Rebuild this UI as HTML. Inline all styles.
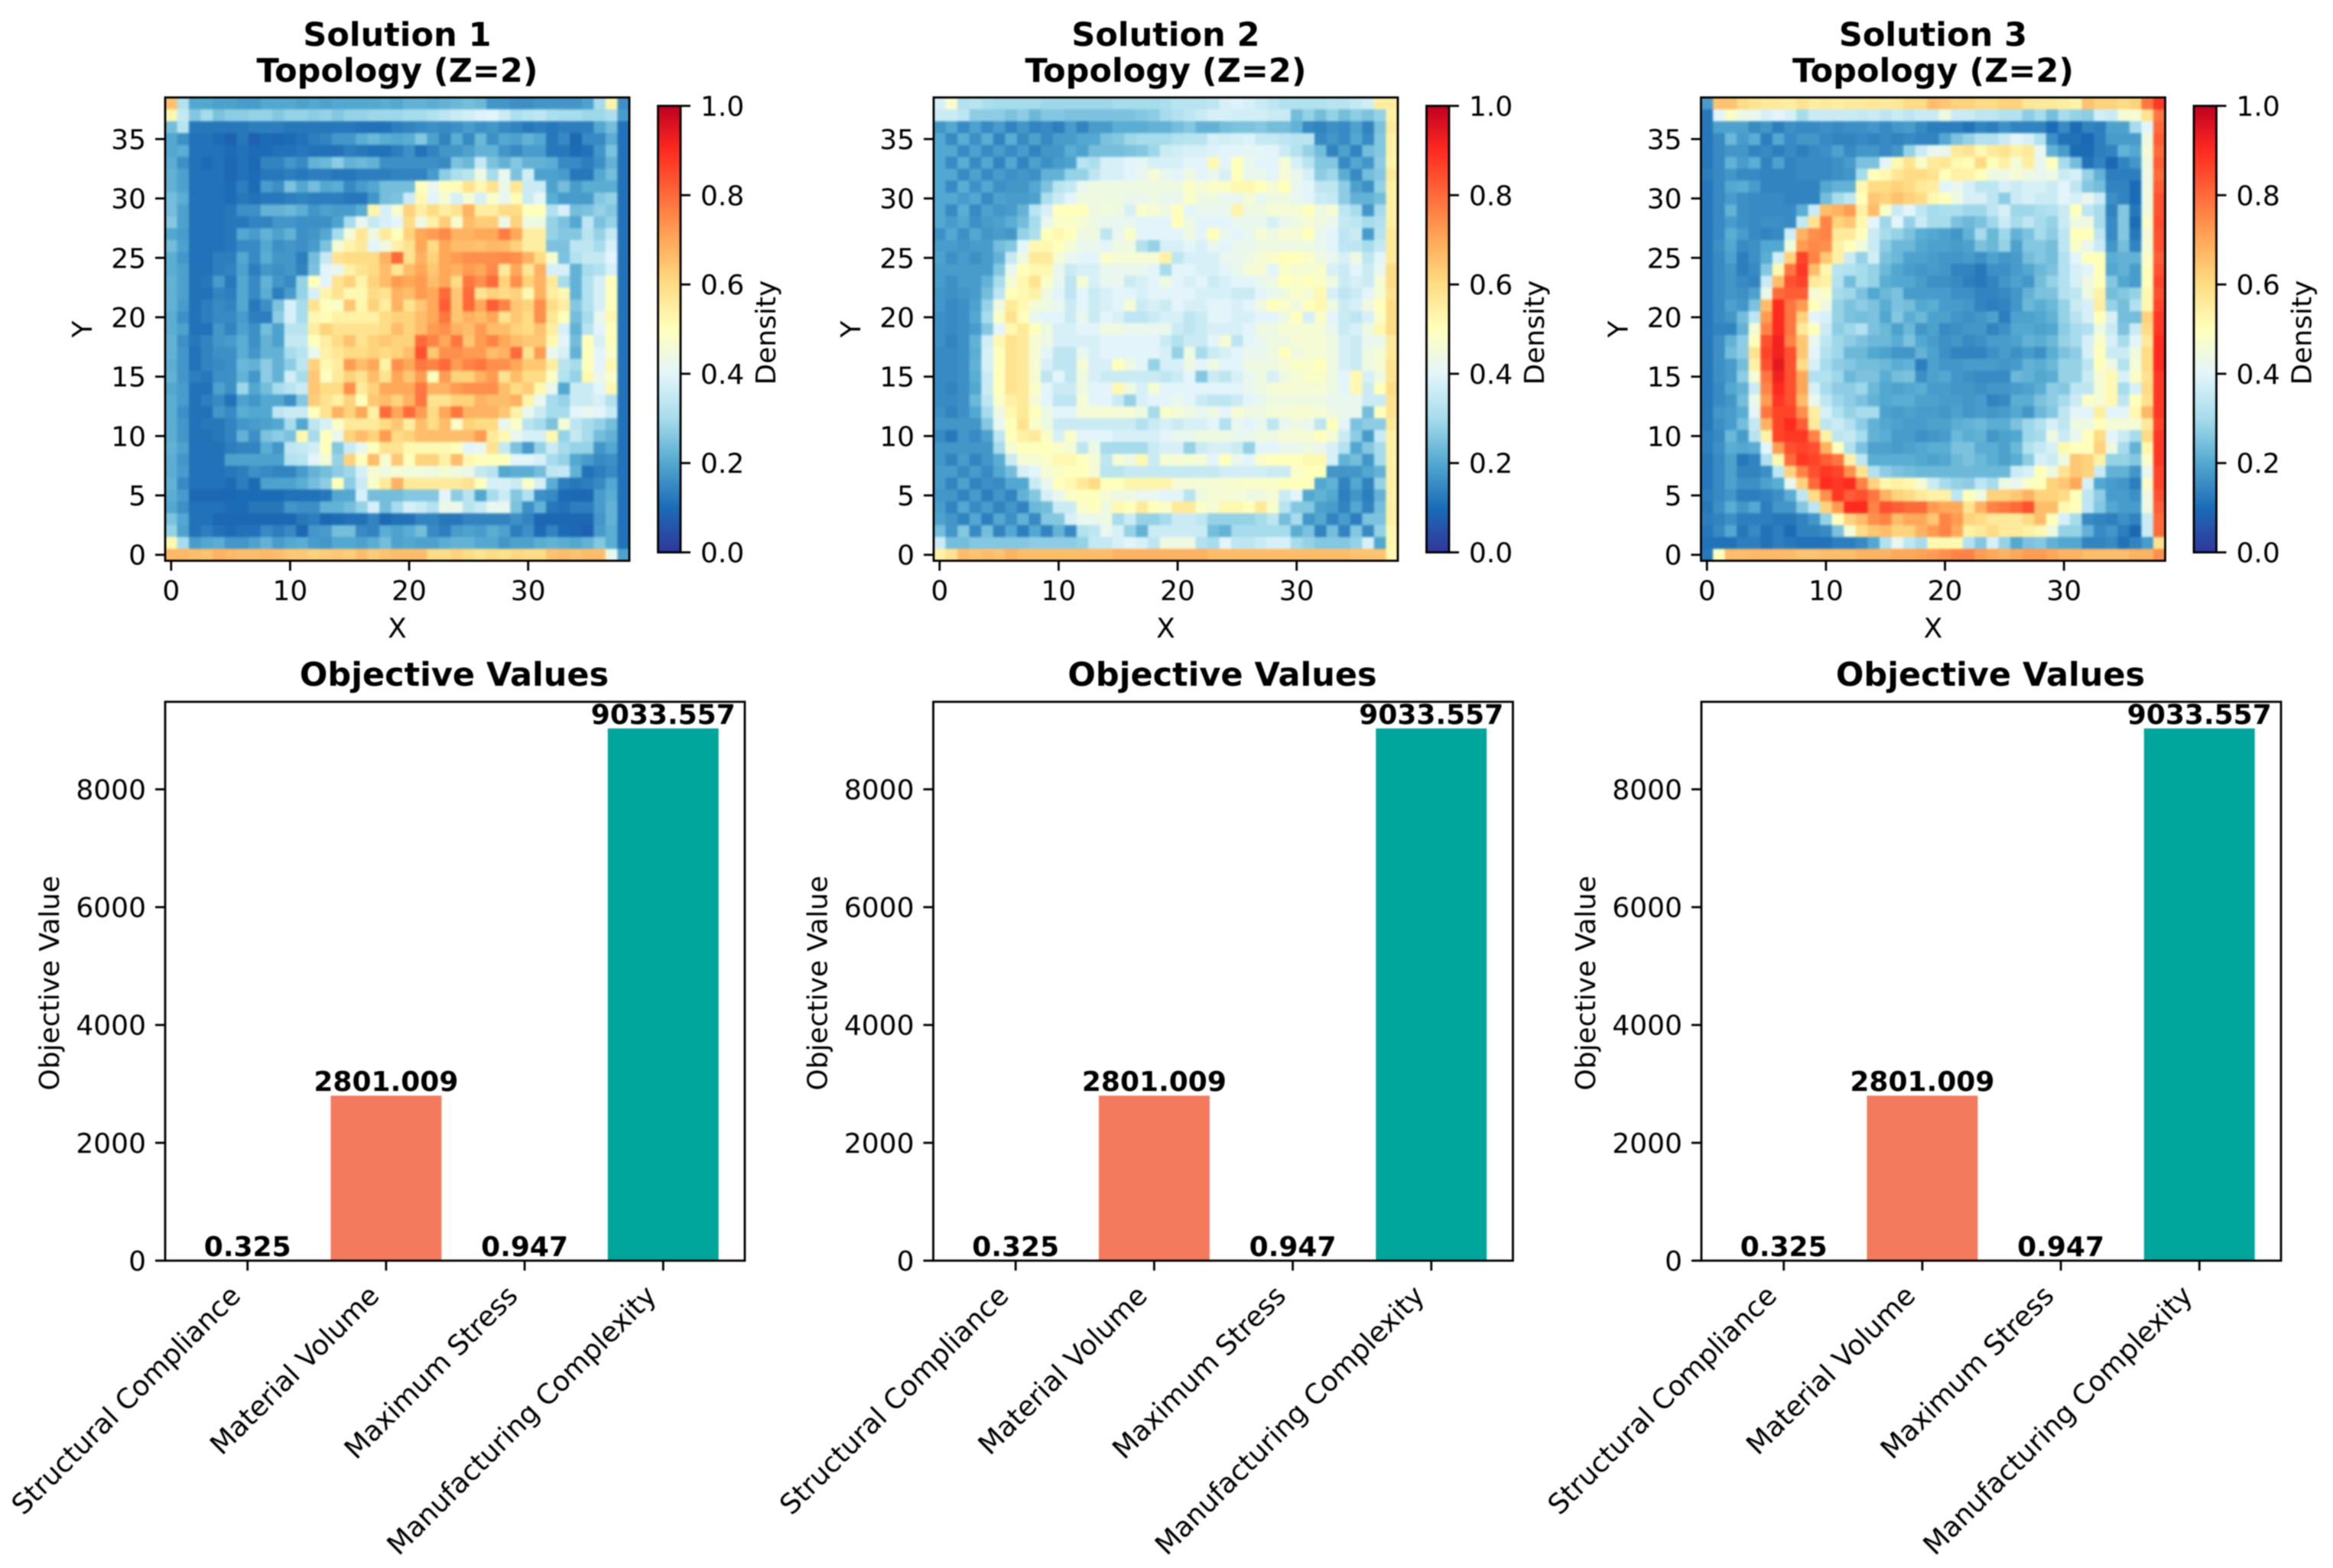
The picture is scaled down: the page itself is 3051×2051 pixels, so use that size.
<!DOCTYPE html>
<html lang="en">
<head>
<meta charset="utf-8">
<title>Topology solutions and objective values</title>
<style>
html,body{margin:0;padding:0;background:#fff;}
svg{display:block;filter:blur(0.7px);}
text{font-family:"DejaVu Sans","Liberation Sans",sans-serif;fill:#000;}
.cells{filter:blur(1.2px);}
</style>
</head>
<body>
<svg id="figure" xmlns="http://www.w3.org/2000/svg" width="3051" height="2051" viewBox="0 0 3051 2051">
<rect width="3051" height="2051" fill="#fff"/>
</svg>
<script>
/* Density values x100, rows listed from Y=38 (top) to Y=0 (bottom) */
const solution1Density = [
[65,32,20,20,19,19,18,18,20,20, 20,19,20,19,20,20,20,20,21,20, 22,22,21,22,23,24,23,17,17,16, 16,17,17,17,17,19,30,53,16],
[52,35,26,30,25,27,27,28,28,26, 28,28,27,28,26,28,28,29,29,29, 30,30,32,34,36,37,39,40,36,31, 33,34,31,30,30,29,29,31,18],
[24,33,12,12,12,12,12,13,13,13, 12,12,12,12,12,12,11,11,11,13, 14,15,16,15,16,18,16,17,15,14, 12,13,12,13,13,13,20,24,11],
[20,16,11,11,10,8,12,8,10,9, 10,11,13,14,17,17,21,23,21,20, 21,26,19,14,21,15,23,16,20,19, 22,20,12,15,9,15,15,21,11],
[20,21,11,11,11,10,11,10,10,11, 11,12,11,11,11,13,12,11,11,13, 16,11,14,17,17,19,22,22,17,15, 18,18,12,12,10,11,17,25,11],
[21,16,11,10,11,9,11,9,14,14, 17,15,22,23,27,22,23,22,16,16, 16,16,16,15,25,23,35,25,22,26, 22,22,21,15,15,13,16,22,11],
[22,19,11,11,11,9,11,10,12,12, 13,12,13,13,12,12,13,13,13,14, 14,14,18,27,31,33,44,30,42,25, 37,19,19,18,12,12,20,24,11],
[22,19,11,11,11,10,13,10,18,16, 25,20,24,20,21,15,18,20,24,24, 24,50,42,50,51,58,52,58,43,57, 36,36,19,24,18,21,21,21,11],
[24,21,11,11,11,10,12,11,12,12, 13,14,13,13,13,12,12,17,24,25, 36,52,40,46,38,46,38,48,42,51, 36,41,21,18,18,18,26,28,11],
[24,19,11,11,11,12,16,16,22,22, 23,21,17,19,18,18,21,53,38,47, 62,55,60,55,58,68,55,55,60,60, 50,50,32,38,24,25,28,26,11],
[26,19,11,11,11,12,12,14,14,17, 17,16,16,16,19,30,42,35,38,40, 60,44,54,63,47,66,63,63,43,62, 44,44,28,25,20,34,25,28,11],
[20,18,11,11,11,12,20,18,22,19, 22,16,17,20,30,46,57,44,56,50, 62,70,72,75,68,68,70,70,77,70, 55,55,28,26,26,33,28,35,11],
[24,19,11,11,11,12,15,15,20,16, 17,16,18,25,46,53,56,40,44,54, 58,70,60,70,66,66,65,67,66,62, 55,55,25,25,34,34,30,38,11],
[21,17,11,11,13,13,20,15,21,17, 17,13,24,35,58,60,60,60,68,80, 58,68,62,70,72,74,74,74,75,74, 68,60,47,25,32,35,35,40,11],
[21,19,11,11,13,14,19,13,17,16, 17,14,25,40,42,54,58,60,66,57, 66,70,64,70,68,72,70,75,56,70, 57,68,38,38,22,30,32,38,11],
[22,19,11,12,18,12,20,15,22,17, 15,28,50,40,58,62,53,62,66,72, 70,72,66,70,60,78,74,80,62,74, 62,68,56,30,22,32,38,50,11],
[22,19,11,11,14,13,20,15,21,13, 18,28,38,53,58,52,52,60,58,68, 66,72,70,80,64,80,58,62,60,62, 52,68,55,52,22,32,38,50,11],
[22,18,11,13,15,14,20,12,16,25, 38,30,58,50,48,64,52,62,55,68, 58,64,70,82,64,80,70,82,76,64, 62,74,60,55,26,32,38,50,11],
[21,16,11,13,15,15,18,13,13,27, 38,30,52,51,54,54,54,54,60,62, 62,66,70,78,64,68,66,70,58,64, 60,74,57,50,24,30,42,52,11],
[21,19,11,11,17,14,19,16,24,19, 33,33,55,62,58,58,58,58,60,66, 62,66,72,74,68,66,72,66,66,62, 60,65,55,38,22,33,40,50,11],
[22,16,12,14,17,18,21,16,22,19, 35,35,50,55,60,65,58,62,64,62, 62,80,76,70,78,64,72,76,70,66, 64,64,52,40,24,50,38,50,11],
[22,17,11,14,16,16,21,17,22,22, 30,33,42,54,57,60,60,62,60,62, 66,84,64,74,74,72,72,66,68,80, 58,72,42,38,22,50,40,48,11],
[21,17,11,14,15,16,23,22,27,22, 27,34,62,52,55,72,66,70,54,74, 70,78,76,80,72,76,78,74,74,70, 64,64,55,33,30,50,40,52,11],
[22,17,13,12,16,16,22,17,27,22, 37,30,64,49,56,62,58,66,58,70, 64,72,50,72,62,62,68,72,58,66, 60,60,48,32,28,52,42,48,11],
[20,18,11,11,19,16,29,20,24,30, 33,36,64,60,60,74,56,62,70,70, 70,78,68,68,72,74,74,74,66,60, 63,52,42,20,36,36,40,52,11],
[21,18,11,13,15,11,19,17,20,20, 16,26,63,58,54,62,50,64,66,62, 68,78,58,58,62,62,68,66,66,68, 53,42,30,28,36,36,38,32,11],
[21,16,11,11,17,15,21,20,20,34, 36,36,50,58,68,62,70,54,80,70, 80,72,60,70,78,68,68,68,64,54, 42,36,30,30,40,42,40,36,11],
[21,17,11,12,12,14,17,18,19,20, 30,20,34,38,48,56,56,56,60,64, 55,66,60,66,48,62,60,60,42,48, 33,30,25,46,34,30,28,24,11],
[21,17,11,11,12,14,22,16,25,27, 25,52,30,50,42,62,66,62,72,60, 62,66,66,66,66,66,72,56,52,42, 38,38,52,28,35,30,24,22,11],
[22,19,11,11,11,13,14,14,21,17, 34,35,37,50,26,36,42,50,58,58, 52,52,52,52,50,40,42,58,35,25, 18,28,36,30,28,28,17,20,11],
[21,17,11,11,11,19,19,19,19,19, 32,33,40,46,28,62,50,66,47,64, 50,62,62,54,66,52,50,50,50,40, 40,38,30,28,20,18,15,16,11],
[21,18,11,11,11,12,13,16,15,14, 14,18,22,24,27,29,38,47,44,46, 45,45,44,46,44,43,35,33,20,21, 21,24,34,35,22,11,13,15,11],
[22,15,11,11,11,10,13,10,19,19, 19,21,24,27,50,27,36,48,56,68, 56,56,56,56,56,58,50,38,38,36, 48,38,21,13,12,13,15,20,11],
[21,18,9,9,9,9,10,10,10,10, 11,11,11,12,20,20,38,24,24,24, 26,26,26,40,27,33,20,30,36,26, 32,16,15,10,9,9,18,21,11],
[20,16,11,11,11,10,10,12,12,12, 17,16,16,22,22,24,28,38,24,30, 38,36,32,43,43,33,36,42,42,25, 16,22,12,11,13,13,18,22,11],
[25,20,11,11,9,9,9,9,9,9, 9,12,13,9,10,11,11,14,9,11, 11,14,14,12,12,14,14,14,14,16, 14,9,9,9,9,9,17,22,11],
[28,19,11,13,11,10,11,11,15,13, 15,9,17,18,24,24,15,14,21,19, 21,24,15,13,18,19,18,21,19,13, 16,10,14,10,9,8,18,21,11],
[52,30,18,20,21,17,17,19,22,18, 20,21,18,17,20,20,19,21,24,19, 20,19,19,21,22,22,20,20,17,19, 19,21,22,21,20,22,26,21,11],
[67,67,66,65,68,67,66,66,67,66, 64,64,62,63,64,63,66,63,65,66, 66,66,60,60,62,60,58,60,59,61, 60,60,65,66,65,66,66,42,19]
];
const solution2Density = [
[38,47,32,33,31,30,30,30,30,29, 29,29,29,29,29,30,30,30,30,31, 33,33,33,34,38,39,38,36,34,32, 32,32,32,33,33,35,37,55,55],
[36,36,34,27,27,27,25,27,23,26, 26,25,25,25,25,25,25,26,27,30, 32,34,36,38,38,37,37,37,36,36, 24,28,24,28,24,27,25,28,54],
[17,20,15,19,15,18,14,17,14,15, 13,18,14,18,18,21,21,21,22,22, 24,26,22,22,24,25,25,26,24,24, 22,15,14,16,15,19,14,25,56],
[20,15,21,16,21,14,21,15,19,15, 18,18,20,20,25,26,29,30,30,30, 32,33,33,38,37,38,39,35,35,34, 33,33,15,17,15,20,15,26,54],
[20,20,15,19,15,18,15,18,14,17, 17,21,19,24,24,24,25,26,29,36, 37,38,38,39,40,40,41,41,40,36, 32,28,24,14,19,14,24,26,54],
[20,15,21,15,20,14,20,14,19,16, 18,19,33,31,38,38,40,41,38,38, 38,40,40,52,40,50,42,40,40,46, 38,33,26,26,15,20,17,27,53],
[20,20,15,19,15,18,16,17,16,22, 22,28,28,34,38,38,40,42,46,42, 40,44,40,42,38,50,42,42,40,46, 42,38,27,29,21,15,24,26,56],
[20,15,21,16,20,16,17,17,20,25, 33,35,42,44,44,44,44,44,44,44, 44,48,46,48,48,52,52,50,46,50, 42,40,34,34,27,19,16,28,54],
[20,20,18,20,15,19,18,18,19,31, 36,40,44,44,44,44,42,42,44,42, 42,48,44,44,42,42,46,42,44,44, 42,40,36,35,27,22,22,24,54],
[20,15,21,15,19,17,18,22,33,38, 50,50,50,44,45,44,38,48,46,44, 50,40,42,42,42,53,44,44,46,46, 46,50,44,46,34,30,17,30,54],
[20,18,20,16,18,19,21,24,30,42, 48,48,46,44,42,42,42,40,40,40, 50,44,40,40,40,42,42,42,38,42, 44,46,44,42,35,34,30,32,54],
[16,20,16,20,17,18,17,28,31,50, 52,50,44,44,34,42,48,40,40,40, 40,44,40,50,42,40,42,46,44,46, 46,50,42,40,34,36,18,33,56],
[18,18,17,18,18,24,26,40,52,52, 50,46,42,42,40,44,44,32,28,38, 38,40,38,42,40,42,42,44,44,44, 44,44,42,40,34,34,30,35,56],
[19,16,18,16,18,22,35,44,56,56, 46,42,40,40,48,46,46,46,46,54, 34,38,38,38,42,42,44,46,48,50, 50,48,44,42,38,44,34,40,56],
[18,18,18,18,18,26,42,50,52,52, 42,36,38,38,42,42,42,42,40,30, 40,40,38,38,40,42,46,46,40,48, 46,46,48,38,36,40,36,42,60],
[18,16,18,18,22,30,46,52,58,48, 42,34,46,38,42,42,36,38,40,44, 40,38,40,36,38,40,40,42,44,50, 48,50,48,44,36,38,36,46,60],
[17,16,17,18,24,34,50,52,54,44, 40,34,40,36,38,40,40,38,40,40, 40,40,38,38,38,36,36,40,42,44, 48,46,52,38,34,36,40,46,58],
[17,15,16,19,28,44,56,52,46,44, 42,36,40,36,38,40,46,36,38,36, 40,38,38,40,40,38,40,44,50,48, 44,50,52,44,36,38,44,50,60],
[16,15,16,20,30,48,58,50,42,40, 40,36,42,36,40,38,34,34,36,38, 38,34,36,40,40,38,38,40,40,44, 50,38,48,40,36,34,38,48,60],
[16,15,16,18,26,40,52,56,50,44, 38,38,40,40,44,44,42,42,42,42, 36,34,36,38,38,38,40,44,44,46, 46,46,46,42,36,38,44,52,60],
[16,14,16,22,37,52,58,56,46,44, 38,38,38,38,40,40,40,40,40,36, 32,36,36,40,46,34,40,42,44,44, 46,46,46,44,38,36,42,42,56],
[15,15,16,21,38,50,58,56,46,40, 34,34,42,38,40,40,40,40,40,38, 28,44,30,36,38,40,42,42,44,50, 44,46,46,44,38,36,44,46,56],
[15,15,16,22,38,50,58,56,46,38, 34,34,46,38,38,50,44,40,28,38, 38,44,40,44,40,40,44,44,44,46, 48,48,50,44,38,36,44,46,58],
[15,15,16,21,36,50,58,56,46,34, 40,34,44,38,36,36,36,36,36,34, 36,40,26,36,34,38,42,44,38,44, 46,48,48,44,40,52,38,44,58],
[15,14,16,20,36,50,58,56,48,40, 36,36,44,40,40,52,44,38,46,40, 40,40,40,40,40,40,42,44,46,47, 46,46,46,44,40,52,36,50,60],
[15,15,16,23,34,48,54,56,46,40, 34,34,46,40,40,36,28,38,40,40, 42,40,36,34,34,36,40,42,44,44, 44,44,44,42,42,42,36,36,58],
[16,14,16,20,30,44,52,56,50,44, 40,40,46,46,46,46,46,44,30,48, 46,44,42,44,40,46,44,44,46,46, 47,47,46,44,42,42,24,50,58],
[17,17,17,17,26,42,50,58,48,44, 36,36,36,36,36,36,36,32,36,38, 36,38,38,40,32,42,40,42,34,42, 44,42,34,50,40,25,27,27,56],
[15,12,17,15,19,34,50,54,56,48, 38,48,40,40,40,38,38,38,38,40, 42,42,44,44,44,42,42,44,44,46, 46,46,50,46,36,27,18,36,54],
[17,17,17,17,17,30,46,50,50,50, 48,46,34,44,30,30,30,30,36,38, 38,28,36,38,38,36,28,40,40,42, 42,44,42,38,32,20,26,30,54],
[17,14,18,14,17,21,36,46,46,48, 52,52,50,46,34,46,44,52,36,46, 46,46,46,40,50,42,40,48,50,50, 50,52,52,38,22,24,17,30,54],
[18,18,15,18,15,20,24,38,40,46, 48,50,50,46,33,33,35,35,35,35, 35,35,35,35,37,37,37,37,36,36, 48,50,50,17,17,17,20,22,54],
[18,14,19,14,16,15,20,20,36,42, 50,52,56,60,50,50,53,53,53,53, 46,46,46,46,47,47,48,48,48,50, 50,50,20,22,14,20,14,28,54],
[17,17,14,18,13,17,14,22,26,38, 42,48,50,50,46,44,44,42,42,40, 40,33,44,46,46,46,44,44,46,36, 40,20,22,20,13,17,13,22,54],
[18,14,20,15,18,14,17,14,23,24, 36,36,48,50,44,52,50,56,50,48, 56,56,48,46,52,52,50,56,48,33, 26,26,19,18,14,20,14,24,54],
[19,17,14,20,13,20,16,22,15,26, 26,38,42,42,44,30,36,28,28,30, 36,36,34,28,28,28,28,30,34,24, 30,17,20,14,18,13,25,25,54],
[24,17,26,15,24,14,20,13,20,14, 22,15,32,34,42,38,28,22,36,36, 36,36,36,24,22,30,30,30,30,30, 21,25,14,24,14,26,15,28,52],
[36,24,24,26,26,26,26,26,27,27, 27,27,28,35,35,38,40,38,34,44, 44,44,32,30,40,34,34,36,38,38, 30,28,26,26,26,28,38,20,52],
[54,58,66,65,66,65,68,66,66,66, 66,66,66,66,66,68,68,68,68,68, 68,68,68,66,66,66,66,66,66,66, 66,66,66,66,66,65,65,65,52]
];
const solution3Density = [
[18,65,65,60,58,56,56,55,58,55, 56,55,56,56,57,56,57,60,60,66, 64,62,62,60,60,62,62,57,56,56, 55,53,65,62,62,60,62,78,88],
[12,40,48,43,42,38,40,38,30,36, 36,36,36,35,36,34,36,34,36,36, 44,36,36,34,34,32,32,27,30,24, 30,28,27,37,36,46,46,58,78],
[12,19,19,19,15,17,13,16,15,15, 16,15,16,16,17,15,17,18,15,13, 13,13,11,14,13,16,14,14,14,10, 15,10,14,13,19,19,30,40,80],
[12,15,23,18,21,13,20,15,17,17, 15,14,14,15,14,15,14,15,14,14, 20,25,28,32,32,36,40,38,32,16, 11,11,9,13,18,18,18,44,82],
[12,15,17,17,14,15,13,15,13,15, 16,19,15,17,17,15,17,28,36,42, 42,56,58,52,56,58,54,56,42,22, 18,10,10,13,14,22,20,46,80],
[12,15,22,18,21,14,19,14,15,15, 15,16,18,25,25,40,52,58,48,56, 57,52,51,60,50,54,46,55,42,50, 30,24,11,14,9,14,17,44,82],
[13,15,17,15,15,14,14,14,15,15, 15,16,17,30,50,52,57,60,60,58, 50,54,54,50,44,44,46,44,42,44, 36,38,28,22,13,13,13,44,80],
[12,15,20,21,18,14,14,14,14,14, 20,22,22,52,60,60,62,60,56,55, 40,42,38,34,34,38,36,38,38,36, 40,34,26,24,14,14,10,44,82],
[12,15,18,16,15,15,15,14,14,14, 24,30,34,50,64,62,65,62,60,52, 50,44,38,38,34,27,36,38,36,36, 40,38,42,36,16,14,10,44,84],
[12,15,22,16,15,15,15,15,21,36, 66,68,72,54,66,48,36,40,34,30, 31,31,29,29,34,38,29,29,31,32, 36,50,34,30,14,26,12,45,84],
[12,15,18,16,15,16,16,15,35,58, 76,62,64,52,40,29,40,28,36,30, 30,25,23,25,29,36,30,34,30,28, 36,44,44,30,15,26,10,48,85],
[12,15,21,18,15,14,15,37,68,74, 76,56,56,50,36,30,28,25,21,20, 19,17,22,30,23,29,22,25,30,27, 34,50,50,34,15,26,12,45,84],
[12,16,20,15,16,20,20,45,72,75, 74,54,50,45,36,27,23,23,20,19, 19,18,19,25,23,28,19,26,26,24, 34,48,42,36,17,24,14,46,84],
[12,15,19,13,16,21,37,62,86,76, 64,54,36,28,37,25,23,19,19,18, 17,17,18,16,19,17,18,24,26,24, 32,40,50,50,21,22,22,48,82],
[12,15,17,13,15,26,52,78,88,66, 52,33,32,30,28,23,20,18,17,18, 17,14,14,12,16,16,18,20,23,25, 32,38,40,50,20,22,18,50,84],
[12,15,17,15,14,36,66,84,86,56, 54,32,24,30,28,21,20,20,18,16, 16,15,13,12,14,17,19,17,24,28, 32,38,44,50,26,20,18,50,86],
[12,15,17,16,19,43,80,82,82,46, 48,30,29,25,20,23,25,18,18,18, 18,16,16,14,14,15,17,22,25,25, 32,34,44,54,24,26,28,52,84],
[12,15,19,17,25,66,90,78,72,50, 44,28,25,27,25,21,25,24,20,21, 18,18,17,14,13,14,17,23,21,23, 28,36,38,55,28,24,32,52,86],
[12,15,17,24,34,72,90,78,62,40, 38,28,25,24,25,20,26,21,23,19, 19,17,16,17,19,13,19,19,20,22, 28,33,38,50,38,24,24,62,88],
[12,14,14,22,46,76,90,78,56,50, 36,27,29,32,25,23,19,23,17,19, 15,16,17,17,14,16,20,20,19,20, 27,30,32,44,36,25,36,60,88],
[12,16,22,27,50,84,92,76,64,42, 34,29,27,25,23,23,21,25,20,18, 16,17,15,16,18,18,19,22,21,23, 28,30,38,48,38,30,40,56,90],
[12,16,24,27,58,86,92,84,64,40, 32,29,23,23,20,19,17,17,22,19, 16,14,14,14,16,18,16,18,16,21, 25,27,38,50,36,36,44,60,90],
[12,16,18,24,54,84,94,84,60,38, 30,27,26,24,24,23,21,22,13,19, 17,17,18,18,18,17,18,22,21,23, 28,28,34,50,44,32,46,60,90],
[12,16,18,27,46,78,92,84,70,32, 32,29,23,25,25,21,24,25,16,19, 20,17,16,15,15,15,23,22,20,21, 28,28,36,46,52,38,48,58,88],
[12,15,20,22,36,76,90,84,70,38, 30,27,27,29,23,20,19,20,21,18, 18,17,17,16,17,17,18,19,21,27, 26,34,34,46,52,30,38,60,88],
[12,15,17,24,43,72,88,84,66,42, 34,29,27,25,22,20,21,21,19,19, 18,18,17,18,14,15,21,21,25,27, 30,36,48,46,52,34,50,58,88],
[12,17,18,21,41,78,86,86,74,55, 38,32,28,30,30,19,18,19,18,18, 17,19,17,18,17,18,20,17,23,26, 34,40,40,55,40,40,52,67,88],
[12,16,18,24,35,68,86,90,82,56, 34,36,32,27,22,20,19,18,18,19, 19,21,22,23,21,21,25,29,32,38, 34,44,44,50,46,46,46,56,86],
[13,15,23,18,33,54,86,88,88,76, 54,34,35,30,22,21,18,18,16,17, 18,23,21,22,17,19,20,29,30,44, 36,42,50,60,40,36,30,60,88],
[13,16,21,20,21,40,72,84,86,84, 68,50,32,25,19,19,18,19,20,21, 21,25,25,21,21,19,23,32,35,38, 52,50,50,62,44,30,22,52,88],
[12,15,19,12,14,32,52,80,88,86, 82,78,54,34,21,21,21,21,20,19, 20,23,25,23,21,19,21,27,38,36, 44,64,62,54,28,28,26,48,88],
[12,15,19,14,14,16,34,62,76,84, 88,86,74,58,32,27,25,24,23,23, 23,23,23,23,23,23,36,38,50,44, 58,64,62,36,22,22,17,42,86],
[12,15,19,16,16,19,21,42,62,80, 90,88,90,76,62,52,54,52,46,36, 30,28,27,34,30,44,42,48,50,62, 64,70,38,20,18,17,13,48,86],
[13,15,17,13,13,14,16,21,34,60, 74,88,82,84,78,68,62,60,56,54, 54,34,50,44,62,62,64,68,62,62, 60,50,34,27,18,18,16,44,84],
[12,16,21,17,20,13,17,17,26,34, 62,72,90,90,76,84,82,80,80,72, 70,70,58,68,76,78,80,84,66,66, 52,50,34,26,20,18,18,44,82],
[13,14,16,13,13,13,12,12,14,17, 28,50,62,66,74,76,66,70,70,64, 76,72,62,60,56,56,56,60,66,50, 38,30,15,14,13,16,14,36,80],
[12,15,20,12,15,11,13,10,14,14, 15,25,46,60,64,66,62,62,68,72, 76,70,54,56,60,56,56,54,52,44, 28,28,22,15,17,13,9,36,80],
[11,11,11,13,13,11,13,12,11,11, 11,13,13,15,20,32,42,34,30,52, 52,52,32,26,38,28,20,25,26,22, 20,20,14,14,15,11,14,18,58],
[12,50,66,66,67,67,67,66,65,65, 66,66,66,68,68,68,70,70,71,72, 74,76,76,72,70,68,70,72,72,70, 68,68,66,66,66,66,68,68,74]
];
const heatmapXTicks = [0,10,20,30];
const heatmapYTicks = [0,5,10,15,20,25,30,35];
const colorbarTicks = [0,0.2,0.4,0.6,0.8,1];

const objectiveCategories = ["Structural Compliance","Material Volume","Maximum Stress","Manufacturing Complexity"];
const solution1Objectives = [0.325,2801.009,0.947,9033.557];
const solution2Objectives = [0.325,2801.009,0.947,9033.557];
const solution3Objectives = [0.325,2801.009,0.947,9033.557];
const objectiveYTicks = [0,2000,4000,6000,8000];
const objectiveColors = ["#2f6fb0","#f47a5e","#7a5fa8","#00a69c"];
const solutionNames = ["Solution 1","Solution 2","Solution 3"];

const svg = document.getElementById('figure');
const NS = 'http://www.w3.org/2000/svg';
const cmap = ['#30369a','#1b6cb6','#52a8d0','#a6dcec','#e3f5fa','#ffffbc','#ffdc85','#ffa858','#ff6a3a','#ff2a20','#c00020'];
function hex(c){return [1,3,5].map(function(i){return parseInt(c.substr(i,2),16);});}
function colorFor(v){
  const t = Math.max(0,Math.min(1,v))*10;
  const i = Math.min(9,Math.floor(t));
  const a = hex(cmap[i]), b = hex(cmap[i+1]), f = t-i;
  return 'rgb('+a.map(function(x,k){return Math.round(x+(b[k]-x)*f);}).join(',')+')';
}
function mk(parent,tag,attrs,content){
  const el = document.createElementNS(NS,tag);
  for(const k in attrs){el.setAttribute(k,attrs[k]);}
  if(content!==undefined){el.textContent=content;}
  parent.appendChild(el);
  return el;
}
const INK = '#000';
const SPINE = 2.8;

function drawHeatmap(index,rows){
  const offset = [0,1005,2008.5][index];
  const left = 216+offset, right = 823+offset, top = 127.5, bottom = 733.5;
  const nCols = rows[0].length, nRows = rows.length;
  const cw = (right-left)/nCols, ch = (bottom-top)/nRows;
  const xPos = function(d){return left+(d+0.5)*cw;};
  const yPos = function(d){return bottom-(d+0.5)*ch;};

  const g = mk(svg,'g',{});
  
  

  const t1 = mk(g,'text',{x:(left+right)/2,y:60,'text-anchor':'middle','font-size':43,'font-weight':'bold'},solutionNames[index]);
  
  
  const t2 = mk(g,'text',{x:(left+right)/2,y:107,'text-anchor':'middle','font-size':43,'font-weight':'bold'},'Topology (Z=2)');
  
  

  const clipId = 'cellclip'+index;
  const clipDefs = mk(g,'defs',{});
  const clip = mk(clipDefs,'clipPath',{id:clipId});
  mk(clip,'rect',{x:left,y:top,width:right-left,height:bottom-top});
  const clipG = mk(g,'g',{'clip-path':'url(#'+clipId+')'});
  
  
  const cells = mk(clipG,'g',{class:'cells'});

  rows.forEach(function(row,r){
    const yVal = nRows-1-r;
    row.forEach(function(val,c){
      const cell = mk(cells,'rect',{x:(xPos(c)-cw/2).toFixed(2),y:(yPos(yVal)-ch/2).toFixed(2),width:(cw+0.4).toFixed(2),height:(ch+0.4).toFixed(2),fill:colorFor(val/100)});
      
      
    });
  });

  const frame = mk(g,'rect',{x:left,y:top,width:right-left,height:bottom-top,fill:'none',stroke:INK,'stroke-width':SPINE});
  
  

  heatmapXTicks.forEach(function(d){
    const tick = mk(g,'line',{x1:xPos(d),x2:xPos(d),y1:bottom,y2:bottom+13,stroke:INK,'stroke-width':SPINE});
    
    
    const lab = mk(g,'text',{x:xPos(d),y:785,'text-anchor':'middle','font-size':36},String(d));
    
    
  });
  heatmapYTicks.forEach(function(d){
    const tick = mk(g,'line',{x1:left-13,x2:left,y1:yPos(d),y2:yPos(d),stroke:INK,'stroke-width':SPINE});
    
    
    const lab = mk(g,'text',{x:left-25,y:yPos(d)+13,'text-anchor':'end','font-size':36},String(d));
    
    
  });
  const xl = mk(g,'text',{x:(left+right)/2,y:834,'text-anchor':'middle','font-size':36},'X');
  
  
  const ylx = left-96, yly = (top+bottom)/2;
  const yl = mk(g,'text',{x:ylx,y:yly,'text-anchor':'middle','font-size':36,transform:'rotate(-90 '+ylx+' '+yly+')'},'Y');
  
  

  // colorbar
  const cbL = 860.5+offset, cbR = 890+offset, cbT = 138.5, cbB = 722.5;
  const cbY = function(v){return cbB-v*(cbB-cbT);};
  const gid = 'cbgrad'+index;
  const defs = mk(g,'defs',{});
  const grad = mk(defs,'linearGradient',{id:gid,x1:0,y1:1,x2:0,y2:0});
  cmap.forEach(function(c,i){mk(grad,'stop',{offset:(i*10)+'%','stop-color':c});});
  const bar = mk(g,'rect',{x:cbL,y:cbT,width:cbR-cbL,height:cbB-cbT,fill:'url(#'+gid+')',stroke:INK,'stroke-width':SPINE});
  
  
  colorbarTicks.forEach(function(v){
    const tick = mk(g,'line',{x1:cbR,x2:cbR+13,y1:cbY(v),y2:cbY(v),stroke:INK,'stroke-width':SPINE});
    
    
    const lab = mk(g,'text',{x:cbR+26,y:cbY(v)+13,'font-size':36},v.toFixed(1));
    
    
  });
  const dx = 1014+offset, dy = 435;
  const dl = mk(g,'text',{x:dx,y:dy,'text-anchor':'middle','font-size':36,transform:'rotate(-90 '+dx+' '+dy+')'},'Density');
  
  
}

function drawBars(index,values){
  const offset = [0,1004.5,2009][index];
  const frameLeft = 216+offset, frameRight = 974+offset;
  const left = 215+offset, right = 976+offset, top = 918, bottom = 1649;
  const xMin = -0.6, xMax = 3.6, yMax = 9485;
  const xPos = function(i){return left+(i-xMin)/(xMax-xMin)*(right-left);};
  const yPos = function(v){return bottom-v/yMax*(bottom-top);};
  const unit = (right-left)/(xMax-xMin);

  const g = mk(svg,'g',{});
  
  

  const title = mk(g,'text',{x:(frameLeft+frameRight)/2-1,y:897,'text-anchor':'middle','font-size':43,'font-weight':'bold'},'Objective Values');
  
  

  values.forEach(function(v,i){
    const bar = mk(g,'rect',{x:xPos(i)-0.4*unit,y:yPos(v),width:0.8*unit,height:bottom-yPos(v),fill:objectiveColors[i]});
    
    
    const lab = mk(g,'text',{x:xPos(i),y:yPos(v)-6,'text-anchor':'middle','font-size':36,'font-weight':'bold'},v.toFixed(3));
    
    
  });

  const frame = mk(g,'rect',{x:frameLeft,y:top,width:frameRight-frameLeft,height:bottom-top,fill:'none',stroke:INK,'stroke-width':SPINE});
  
  

  objectiveCategories.forEach(function(name,i){
    const tick = mk(g,'line',{x1:xPos(i),x2:xPos(i),y1:bottom,y2:bottom+13,stroke:INK,'stroke-width':SPINE});
    
    
    const ax = xPos(i)-7, ay = 1697;
    const lab = mk(g,'text',{x:ax,y:ay,'text-anchor':'end','font-size':36.3,transform:'rotate(-45 '+ax+' '+ay+')'},name);
    
    
  });
  objectiveYTicks.forEach(function(v){
    const tick = mk(g,'line',{x1:frameLeft-13,x2:frameLeft,y1:yPos(v),y2:yPos(v),stroke:INK,'stroke-width':SPINE});
    
    
    const lab = mk(g,'text',{x:frameLeft-25,y:yPos(v)+13,'text-anchor':'end','font-size':36},String(v));
    
    
  });
  const lx = frameLeft-139, ly = 1286;
  const yl = mk(g,'text',{x:lx,y:ly,'text-anchor':'middle','font-size':36,transform:'rotate(-90 '+lx+' '+ly+')'},'Objective Value');
  
  
}

drawHeatmap(0,solution1Density);
drawHeatmap(1,solution2Density);
drawHeatmap(2,solution3Density);
drawBars(0,solution1Objectives);
drawBars(1,solution2Objectives);
drawBars(2,solution3Objectives);
</script>
</body>
</html>
